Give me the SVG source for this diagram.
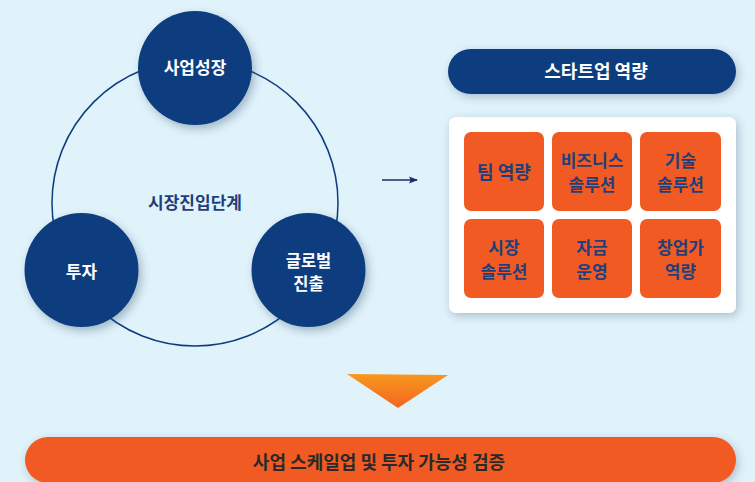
<svg xmlns="http://www.w3.org/2000/svg" width="755" height="482" viewBox="0 0 755 482">
<defs>
<style>
.t{font-family:"Noto Sans CJK KR","Noto Sans",sans-serif;font-weight:700;font-size:17px;text-anchor:middle}
.l{font-size:18px}
.s{font-size:16.5px}
.m{font-size:17px}
.w{fill:#ffffff}
.b{fill:#1e3f7c}
.k{fill:#2a2a2a}
.node{fill:#0d3c7e;filter:url(#sh)}
.box{fill:#f15a22}
</style>
<filter id="sh" x="-30%" y="-30%" width="160%" height="170%">
<feDropShadow dx="3" dy="4" stdDeviation="4" flood-color="#2a4a66" flood-opacity="0.35"/>
</filter>
<filter id="sh2" x="-10%" y="-20%" width="120%" height="150%">
<feDropShadow dx="2" dy="3" stdDeviation="4" flood-color="#2a4a66" flood-opacity="0.3"/>
</filter>
<linearGradient id="tri" x1="0" y1="0" x2="0" y2="1">
<stop offset="0" stop-color="#f8981d"/>
<stop offset="1" stop-color="#f26522"/>
</linearGradient>
<marker id="ah" viewBox="0 0 10 10" refX="9" refY="5" markerWidth="9" markerHeight="9" markerUnits="userSpaceOnUse" orient="auto">
<path d="M0,1 L10,5 L0,9 L2,5 Z" fill="#1b2a6b"/>
</marker>
</defs>
<rect width="755" height="482" fill="#e0f2fa"/>

<g id="connectors">
<circle cx="195" cy="203" r="143" fill="none" stroke="#0d3c7e" stroke-width="1.5"/>
<line x1="382" y1="180" x2="417" y2="180" stroke="#1b2a6b" stroke-width="1.5" marker-end="url(#ah)"/>
<polygon points="347,374 448,375 398,408" fill="url(#tri)"/>
</g>

<g id="stage">
<text class="t b" x="195" y="209">시장진입단계</text>
</g>

<g id="growth">
<circle class="node" cx="195" cy="68" r="57"/>
<text class="t w" x="195" y="74">사업성장</text>
</g>
<g id="invest">
<circle class="node" cx="81.5" cy="270" r="57"/>
<text class="t w" x="81.5" y="278">투자</text>
</g>
<g id="global">
<circle class="node" cx="308.5" cy="270" r="57"/>
<text class="t s w" x="308.5" y="266.5">글로벌<tspan x="308.5" dy="23">진출</tspan></text>
</g>

<g id="capability-title">
<rect x="448" y="49" width="288" height="45" rx="22.5" fill="#0d3c7e" filter="url(#sh2)"/>
<text class="t l w" x="596" y="78">스타트업 역량</text>
</g>

<g id="capability-card">
<rect x="449" y="117" width="287" height="196" rx="7" fill="#ffffff" filter="url(#sh2)"/>
</g>
<g id="team">
<rect class="box" x="464" y="132" width="80" height="79" rx="7"/>
<text class="t l b" x="504" y="179">팀 역량</text>
</g>
<g id="business">
<rect class="box" x="552" y="132" width="80" height="79" rx="7"/>
<text class="t m b" x="592" y="167">비즈니스<tspan x="592" dy="23.5">솔루션</tspan></text>
</g>
<g id="tech">
<rect class="box" x="640" y="132" width="81" height="79" rx="7"/>
<text class="t m b" x="680.5" y="167">기술<tspan x="680.5" dy="23.5">솔루션</tspan></text>
</g>
<g id="market">
<rect class="box" x="464" y="219" width="80" height="79" rx="7"/>
<text class="t m b" x="504" y="254">시장<tspan x="504" dy="23.5">솔루션</tspan></text>
</g>
<g id="funding">
<rect class="box" x="552" y="219" width="80" height="79" rx="7"/>
<text class="t m b" x="592" y="254">자금<tspan x="592" dy="23.5">운영</tspan></text>
</g>
<g id="founder">
<rect class="box" x="640" y="219" width="81" height="79" rx="7"/>
<text class="t m b" x="680.5" y="254">창업가<tspan x="680.5" dy="23.5">역량</tspan></text>
</g>

<g id="scaleup">
<rect x="25" y="437" width="711" height="46" rx="23" fill="#f15a22" filter="url(#sh2)"/>
<text class="t l k" x="379" y="469">사업 스케일업 및 투자 가능성 검증</text>
</g>
</svg>
